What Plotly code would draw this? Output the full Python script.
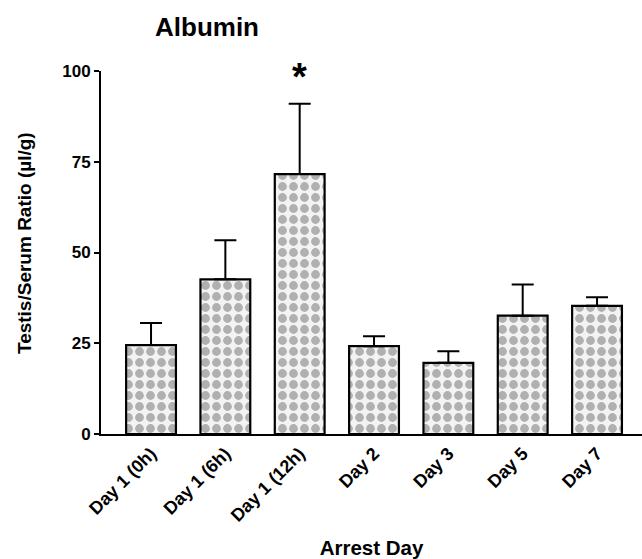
import plotly.graph_objects as go

categories = ["Day 1 (0h)", "Day 1 (6h)", "Day 1 (12h)", "Day 2", "Day 3", "Day 5", "Day 7"]
means = [24.5, 42.6, 71.6, 24.2, 19.6, 32.6, 35.3]
errors_up = [6.1, 10.8, 19.4, 2.7, 3.2, 8.6, 2.4]
y_ticks = [0, 25, 50, 75, 100]
sig_category = "Day 1 (12h)"
sig_label = "*"

FONT = "Liberation Sans, Arial, sans-serif"

fig = go.Figure()
fig.add_trace(go.Bar(
    x=categories,
    y=means,
    width=0.67,
    marker=dict(
        color="#ffffff",
        line=dict(color="black", width=2.2),
        pattern=dict(shape=".", fgcolor="#b0b0b0", bgcolor="#f3f3f3", size=11, solidity=0.5, fillmode="replace"),
    ),
    error_y=dict(type="data", array=errors_up, arrayminus=[0] * len(means), symmetric=False,
                 color="black", thickness=2, width=11),
    showlegend=False,
))

# significance marker
fig.add_annotation(x=sig_category, xref="x", y=1.0, yref="paper", text="<b>" + sig_label + "</b>",
                   showarrow=False, font=dict(family=FONT, size=38, color="black"),
                   yanchor="middle", yshift=-6)

# y-axis title as annotation for exact placement
fig.add_annotation(x=0, xref="paper", xanchor="center", xshift=-77, y=0.526, yref="paper",
                   text="<b>Testis/Serum Ratio (µl/g)</b>", textangle=-90, showarrow=False,
                   font=dict(family=FONT, size=19, color="black"))

fig.update_layout(
    width=642, height=559,
    margin=dict(l=101, r=0, t=71, b=125),
    paper_bgcolor="white", plot_bgcolor="white",
    font=dict(family=FONT, color="black"),
    title=dict(text="<b>Albumin</b>", x=207 / 642, y=1 - 27 / 559, xref="container", yref="container",
               xanchor="center", yanchor="middle", font=dict(size=26, family=FONT)),
)

fig.update_xaxes(
    range=[-0.673, 6.605],
    showline=True, linecolor="black", linewidth=2,
    ticks="", tickangle=-45,
    tickvals=categories,
    ticktext=["<b>%s</b>" % c for c in categories],
    tickfont=dict(size=18, family=FONT),
    title=dict(text="<b>Arrest Day</b>", font=dict(size=20.5, family=FONT), standoff=22),
    showgrid=False, zeroline=False, automargin=False,
)
fig.update_yaxes(
    range=[0, 100],
    tickvals=y_ticks,
    ticktext=["<b>%d</b>" % v for v in y_ticks],
    showline=True, linecolor="black", linewidth=2,
    ticks="outside", ticklen=5, tickwidth=2, tickcolor="black",
    tickfont=dict(size=17, family=FONT),
    showgrid=False, zeroline=False, automargin=False,
)

fig.write_html("out.html", config={"displayModeBar": False},
               post_script="document.body.style.margin='0';document.body.style.padding='0';")
